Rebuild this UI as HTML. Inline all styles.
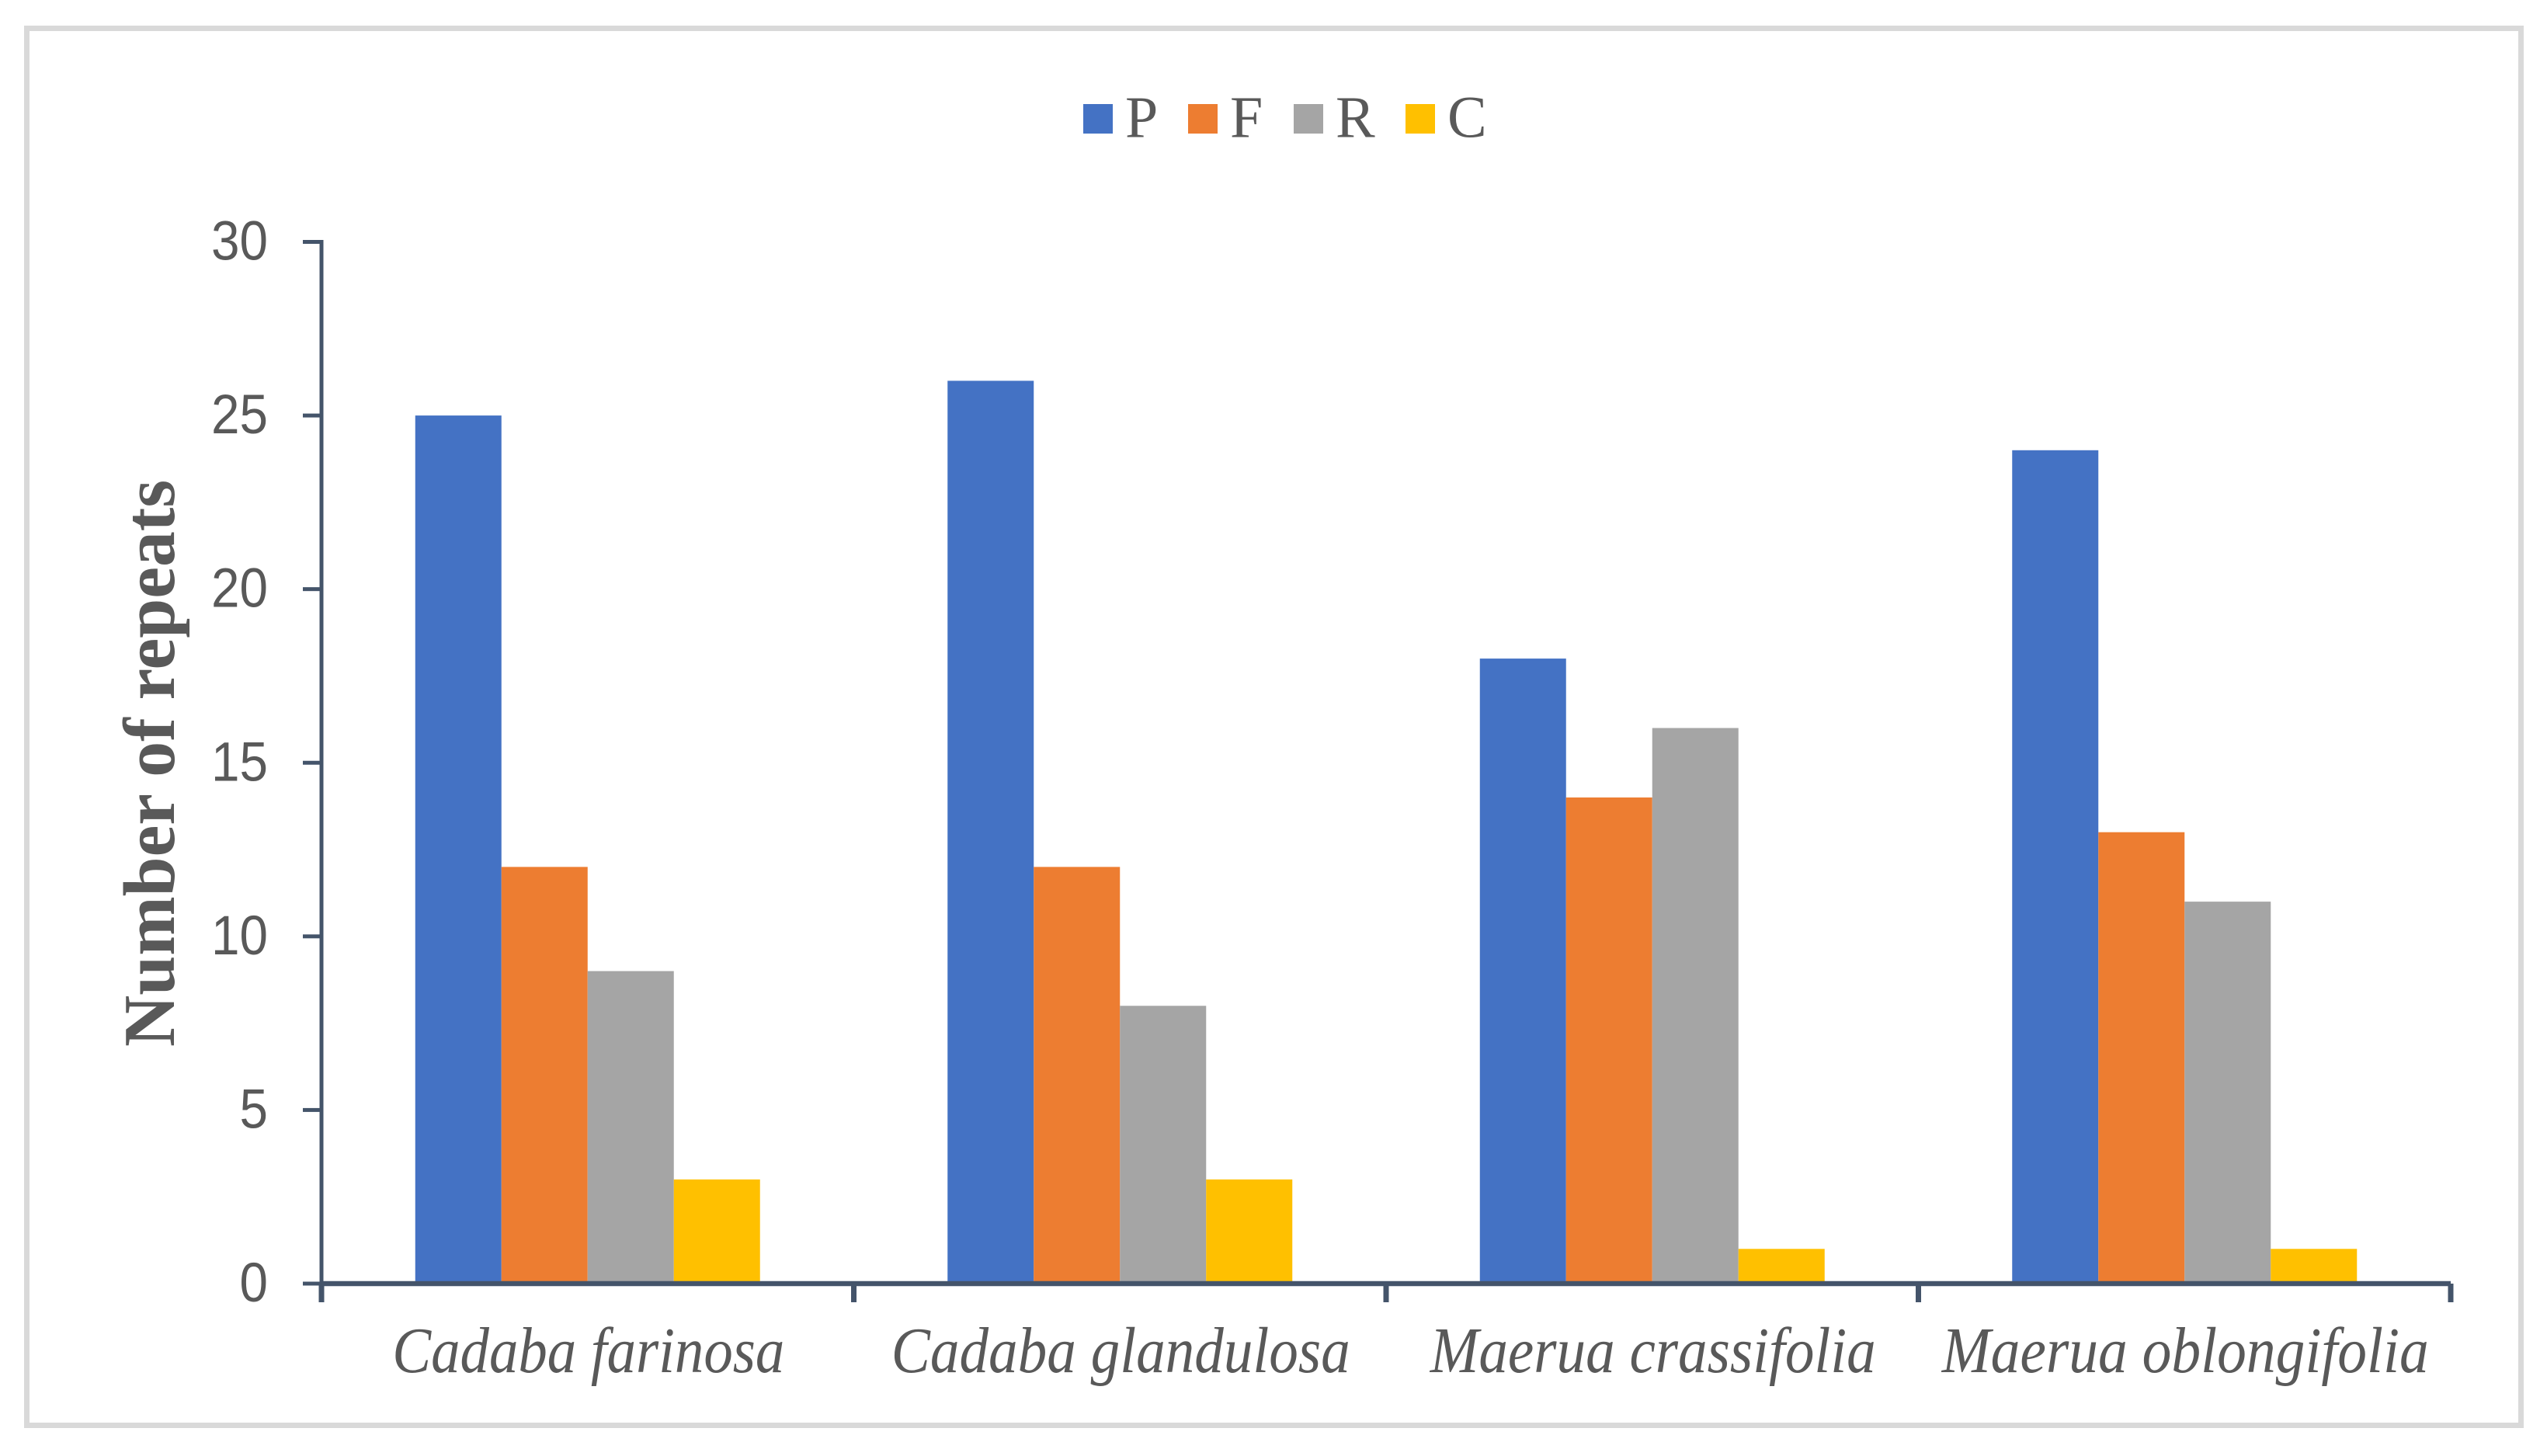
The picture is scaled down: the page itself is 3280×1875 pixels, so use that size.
<!DOCTYPE html>
<html lang="en">
<head>
<meta charset="utf-8">
<title>Number of repeats by species</title>
<style>
  html, body { margin: 0; padding: 0; background: #ffffff; width: 3280px; height: 1875px; overflow: hidden; }
  svg { display: block; }
  text { fill: #595959; }
</style>
</head>
<body>
<svg id="chart" xmlns="http://www.w3.org/2000/svg" width="3280" height="1875" viewBox="0 0 3280 1875">
  <rect x="0" y="0" width="3280" height="1875" fill="#ffffff"/>
  <rect x="34.5" y="36.5" width="3212" height="1799" fill="none" stroke="#d9d9d9" stroke-width="7"/>
  <g id="bars"></g>
  <g id="axes"></g>
  <g id="legend"></g>
  <text transform="translate(224 1348) rotate(-90)" font-family="'Liberation Serif', serif" font-weight="700" font-size="94" textLength="730" lengthAdjust="spacingAndGlyphs">Number of repeats</text>
</svg>
<script>
const categories = ['Cadaba farinosa', 'Cadaba glandulosa', 'Maerua crassifolia', 'Maerua oblongifolia'];
const seriesNames = ['P', 'F', 'R', 'C'];
const seriesP = [25, 26, 18, 24];
const seriesF = [12, 12, 14, 13];
const seriesR = [9, 8, 16, 11];
const seriesC = [3, 3, 1, 1];
const seriesValues = [seriesP, seriesF, seriesR, seriesC];
const seriesColors = ['#4472c4', '#ed7d31', '#a5a5a5', '#ffc000'];
const yTicks = [0, 5, 10, 15, 20, 25, 30];
const categoryLabelWidths = [505, 591, 574, 627];
const legendSwatchLefts = [1395, 1530, 1666, 1810];

const NS = 'http://www.w3.org/2000/svg';
const plotLeft = 414, plotRight = 3156, plotBottom = 1653, plotTop = 311.5;
const yMax = 30;
const axisColor = '#44546a';
const barWidth = 111;

function yScale(v) { return plotBottom - (v / yMax) * (plotBottom - plotTop); }
function xBand() { return (plotRight - plotLeft) / categories.length; }
function xCenter(i) { return plotLeft + (i + 0.5) * xBand(); }
function xEdge(i) { return plotLeft + i * xBand(); }

function make(tag, attrs, parent) {
  const el = document.createElementNS(NS, tag);
  for (const k in attrs) el.setAttribute(k, attrs[k]);
  parent.appendChild(el);
  return el;
}

const barsG = document.getElementById('bars');
const axesG = document.getElementById('axes');
const legendG = document.getElementById('legend');

seriesValues.forEach(function (vals, s) {
  vals.forEach(function (v, c) {
    const bar = make('rect', {
      x: xCenter(c) + (s - seriesValues.length / 2) * barWidth,
      y: yScale(v),
      width: barWidth,
      height: plotBottom - yScale(v),
      fill: seriesColors[s]
    }, barsG);
    
    
  });
});

const yAxisLine = make('rect', { x: plotLeft - 2.5, y: plotTop - 2.5, width: 5, height: plotBottom - plotTop + 2.5, fill: axisColor }, axesG);



const xAxisLine = make('rect', { x: plotLeft, y: plotBottom - 3.25, width: plotRight - plotLeft, height: 6.5, fill: axisColor }, axesG);



yTicks.forEach(function (t) {
  const tick = make('rect', { x: 390, y: yScale(t) - 2.5, width: 24, height: 5, fill: axisColor }, axesG);
  
  
  const label = make('text', {
    x: 345,
    y: yScale(t) + 23,
    'text-anchor': 'end',
    'font-family': "'Liberation Sans', sans-serif",
    'font-size': 71,
    textLength: String(t).length * 36.5,
    lengthAdjust: 'spacingAndGlyphs'
  }, axesG);
  
  
  label.textContent = String(t);
});

for (let i = 0; i <= categories.length; i++) {
  const tick = make('rect', { x: xEdge(i) - 3.5, y: plotBottom, width: 7, height: 24, fill: axisColor }, axesG);
  
  
}

categories.forEach(function (name, i) {
  const label = make('text', {
    x: xCenter(i) + 1,
    y: 1767,
    'text-anchor': 'middle',
    'font-family': "'Liberation Serif', serif",
    'font-style': 'italic',
    'font-size': 84,
    textLength: categoryLabelWidths[i],
    lengthAdjust: 'spacingAndGlyphs'
  }, axesG);
  
  
  label.textContent = name;
});

seriesNames.forEach(function (name, s) {
  const swatch = make('rect', { x: legendSwatchLefts[s], y: 134, width: 38, height: 38, fill: seriesColors[s] }, legendG);
  
  
  const label = make('text', {
    x: legendSwatchLefts[s] + 54,
    y: 176.5,
    'font-family': "'Liberation Serif', serif",
    'font-size': 76
  }, legendG);
  
  
  label.textContent = name;
});
</script>
</body>
</html>
